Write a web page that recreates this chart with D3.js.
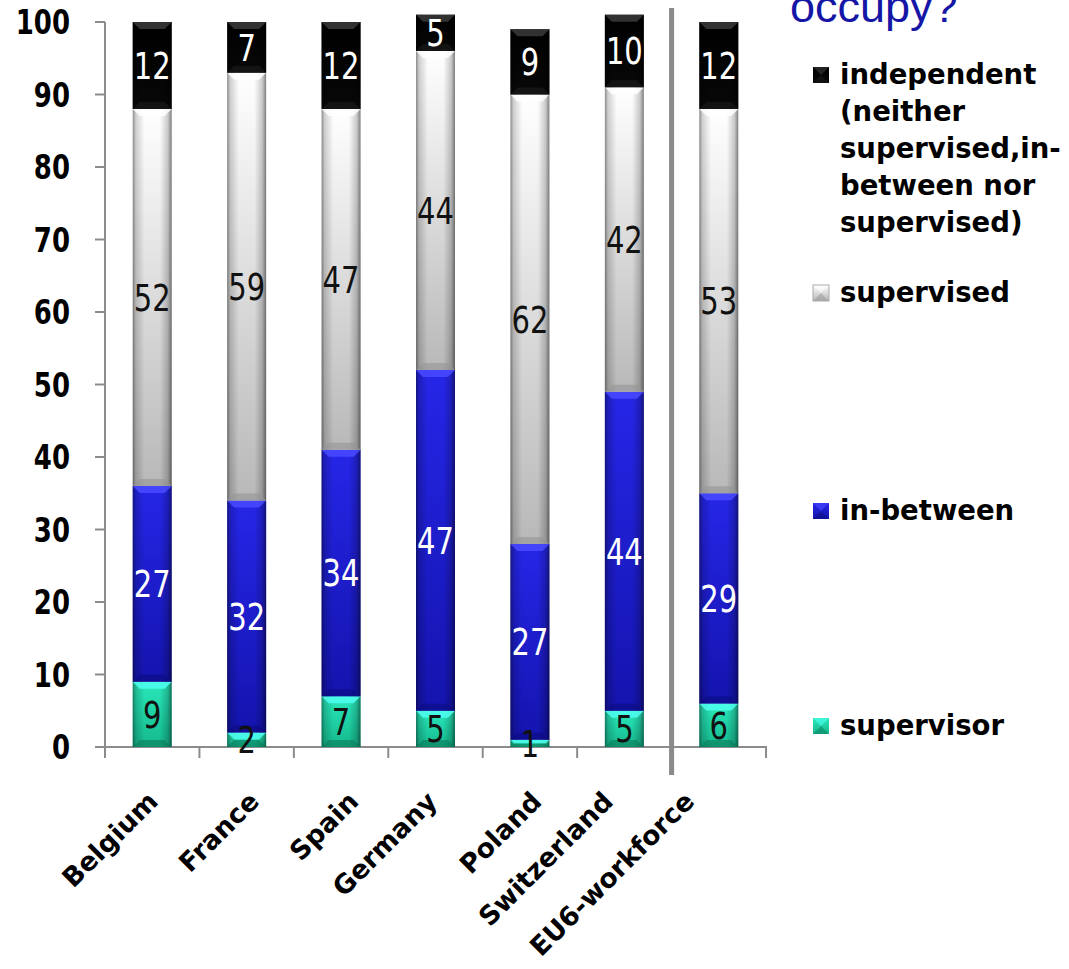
<!DOCTYPE html>
<html>
<head>
<meta charset="utf-8">
<script src="https://cdn.jsdelivr.net/npm/d3@7"></script>
<style>
  html, body { margin: 0; padding: 0; background: #fff; }
  svg { display: block; }
</style>
</head>
<body>
<svg id="chart" width="1069" height="969"></svg>
<script>
// Position held in the organisation, share of respondents (%)
const categories = ["Belgium", "France", "Spain", "Germany", "Poland", "Switzerland", "EU6-workforce"];
const supervisor  = [9, 2, 7, 5, 1, 5, 6];
const inBetween   = [27, 32, 34, 47, 27, 44, 29];
const supervised  = [52, 59, 47, 44, 62, 42, 53];
const independent = [12, 7, 12, 5, 9, 10, 12];
const seriesKeys  = ["supervisor", "inBetween", "supervised", "independent"];
const yTicks = [0, 10, 20, 30, 40, 50, 60, 70, 80, 90, 100];
const titleText = "occupy?";
const legendLabels = {
  independent: ["independent", "(neither", "supervised,in-", "between nor", "supervised)"],
  supervised: ["supervised"],
  inBetween: ["in-between"],
  supervisor: ["supervisor"]
};

const rows = categories.map((c, i) => ({
  category: c,
  supervisor: supervisor[i],
  inBetween: inBetween[i],
  supervised: supervised[i],
  independent: independent[i]
}));

const style = {
  supervisor:  { top: "#2ae8bb", bottom: "#14b88c", bevelTop: "#4dfff0", bevelBottom: "#0c7a5c", label: "#111" },
  inBetween:   { top: "#2626e8", bottom: "#1414ae", bevelTop: "#4a4aff", bevelBottom: "#0c0c80", label: "#fff" },
  supervised:  { top: "#ffffff", bottom: "#b8b8b8", bevelTop: "#ffffff", bevelBottom: "#959595", label: "#111" },
  independent: { top: "#000000", bottom: "#080808", bevelTop: "#3a3a3a", bevelBottom: "#1c1c1c", label: "#fff" }
};

const svg = d3.select("#chart");
const defs = svg.append("defs");

const plot = { left: 105, right: 766, top: 22, bottom: 747 };

const x = d3.scaleBand()
  .domain(categories)
  .range([plot.left, plot.right])
  .paddingInner(0.587)
  .paddingOuter(0.2935);

const y = d3.scaleLinear().domain([0, 100]).range([plot.bottom, plot.top]);

// gradients
seriesKeys.forEach(k => {
  const g = defs.append("linearGradient").attr("id", "v-" + k)
    .attr("x1", 0).attr("y1", 0).attr("x2", 0).attr("y2", 1);
  g.append("stop").attr("offset", "0%").attr("stop-color", style[k].top);
  g.append("stop").attr("offset", "100%").attr("stop-color", style[k].bottom);
});
const edge = defs.append("linearGradient").attr("id", "edge")
  .attr("x1", 0).attr("y1", 0).attr("x2", 1).attr("y2", 0);
[[0, 0.45], [0.08, 0.18], [0.3, 0], [0.7, 0], [0.9, 0.2], [1, 0.5]].forEach(([o, a]) =>
  edge.append("stop").attr("offset", o).attr("stop-color", "#000").attr("stop-opacity", a));

const stack = d3.stack().keys(seriesKeys);
const layers = stack(rows);

// axes
const axisColor = "#8c8c8c";
const axisG = svg.append("g");
axisG.append("line")
  .attr("x1", plot.left).attr("x2", plot.left)
  .attr("y1", y(100)).attr("y2", plot.bottom + 11)
  .attr("stroke", axisColor).attr("stroke-width", 2);
axisG.append("line")
  .attr("x1", plot.left - 10).attr("x2", plot.right + 1)
  .attr("y1", plot.bottom).attr("y2", plot.bottom)
  .attr("stroke", axisColor).attr("stroke-width", 2);

axisG.selectAll(".ytick").data(yTicks).join("line")
  .attr("x1", plot.left - 10).attr("x2", plot.left)
  .attr("y1", d => y(d)).attr("y2", d => y(d))
  .attr("stroke", axisColor).attr("stroke-width", 2);

axisG.selectAll(".ylab").data(yTicks).join("text")
  .attr("transform", d => `translate(70,${y(d)}) scale(1,1.32)`)
  .attr("text-anchor", "end")
  .attr("dy", "0.36em")
  .attr("font-family", "DejaVu Sans, Verdana, sans-serif")
  .attr("font-weight", "bold")
  .attr("font-size", 26)
  .attr("fill", "#000")
  .text(d => d);

const boundaries = d3.range(categories.length + 1).map(i => plot.left + i * x.step());
axisG.selectAll(".xtick").data(boundaries).join("line")
  .attr("x1", d => d).attr("x2", d => d)
  .attr("y1", plot.bottom).attr("y2", plot.bottom + 11)
  .attr("stroke", axisColor).attr("stroke-width", 2);

// bars
const barG = svg.append("g");
layers.forEach(layer => {
  const k = layer.key;
  const s = style[k];
  const g = barG.append("g");
  layer.forEach((d, i) => {
    const x0 = x(categories[i]);
    const w = x.bandwidth();
    const yTop = y(d[1]);
    const yBot = y(d[0]);
    const h = yBot - yTop;
    g.append("rect").attr("x", x0).attr("y", yTop).attr("width", w).attr("height", h)
      .attr("fill", `url(#v-${k})`);
    g.append("rect").attr("x", x0).attr("y", yTop).attr("width", w).attr("height", h)
      .attr("fill", "url(#edge)");
    const b = Math.min(7, h / 2);
    g.append("polygon")
      .attr("points", [[x0, yTop], [x0 + w, yTop], [x0 + w - b, yTop + b], [x0 + b, yTop + b]].map(p => p.join(",")).join(" "))
      .attr("fill", s.bevelTop).attr("opacity", 0.85);
    g.append("polygon")
      .attr("points", [[x0, yBot], [x0 + w, yBot], [x0 + w - b, yBot - b], [x0 + b, yBot - b]].map(p => p.join(",")).join(" "))
      .attr("fill", s.bevelBottom).attr("opacity", 0.6);
  });
});

// value labels
const labelG = svg.append("g");
layers.forEach(layer => {
  const k = layer.key;
  layer.forEach((d, i) => {
    const cx = x(categories[i]) + x.bandwidth() / 2;
    const cy = (y(d[0]) + y(d[1])) / 2;
    labelG.append("text")
      .attr("transform", `translate(${cx},${cy}) scale(1,1.28)`)
      .attr("text-anchor", "middle")
      .attr("dy", "0.36em")
      .attr("font-family", "DejaVu Sans, Verdana, sans-serif")
      .attr("font-size", 29)
      .attr("fill", style[k].label)
      .text(d.data[k]);
  });
});

// category labels, rotated; longer labels sit further left of their bar
const catG = svg.append("g");
catG.selectAll("text").data(categories).join("text")
  .attr("text-anchor", "end")
  .attr("font-family", "DejaVu Sans, Verdana, sans-serif")
  .attr("font-weight", "bold")
  .attr("font-size", 26.5)
  .attr("fill", "#000")
  .text(d => d)
  .each(function(d) {
    const len = this.getComputedTextLength();
    const cx = x(d) + x.bandwidth() / 2 + 45 - 0.31 * len;
    d3.select(this).attr("transform", `translate(${cx},${plot.bottom + 56}) rotate(-45)`);
  });

// divider between countries and workforce reference
const divX = plot.left + 6 * x.step();
svg.append("line")
  .attr("x1", divX).attr("x2", divX)
  .attr("y1", 8).attr("y2", 775)
  .attr("stroke", "#8a8a8a").attr("stroke-width", 5);

// title fragment
svg.append("text")
  .attr("x", 790).attr("y", 22)
  .attr("font-family", "Liberation Sans, Arial, sans-serif")
  .attr("font-size", 45)
  .attr("fill", "#1616a6")
  .text(titleText);

// legend
const legendItems = [
  { key: "independent", y: 84 },
  { key: "supervised", y: 302 },
  { key: "inBetween", y: 520 },
  { key: "supervisor", y: 735 }
];
const legG = svg.append("g");
legendItems.forEach(item => {
  const s = style[item.key];
  const mx = 813, my = item.y - 17, ms = 16;
  legG.append("rect").attr("x", mx).attr("y", my).attr("width", ms).attr("height", ms)
    .attr("fill", `url(#v-${item.key})`);
  legG.append("polygon")
    .attr("points", [[mx, my], [mx + ms, my], [mx + ms / 2, my + ms / 2]].map(p => p.join(",")).join(" "))
    .attr("fill", s.bevelTop).attr("opacity", 0.6);
  legG.append("polygon")
    .attr("points", [[mx, my + ms], [mx + ms, my + ms], [mx + ms / 2, my + ms / 2]].map(p => p.join(",")).join(" "))
    .attr("fill", s.bevelBottom).attr("opacity", 0.5);
  legG.append("rect").attr("x", mx).attr("y", my).attr("width", ms).attr("height", ms)
    .attr("fill", "none").attr("stroke", item.key === "supervised" ? "#aaa" : "none").attr("stroke-width", 1);
  const t = legG.append("text")
    .attr("x", 840).attr("y", item.y)
    .attr("font-family", "DejaVu Sans, Verdana, sans-serif")
    .attr("font-weight", "bold")
    .attr("font-size", 27.5)
    .attr("fill", "#000");
  legendLabels[item.key].forEach((line, j) => {
    t.append("tspan").attr("x", 840).attr("dy", j === 0 ? 0 : 37).text(line);
  });
});
</script>
</body>
</html>
